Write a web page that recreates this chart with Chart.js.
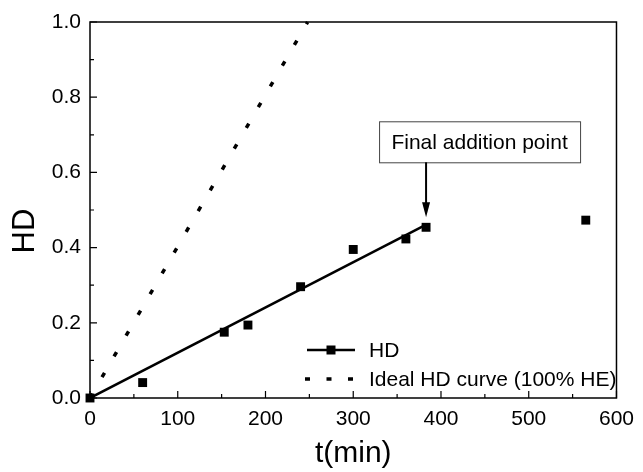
<!DOCTYPE html>
<html>
<head>
<meta charset="utf-8">
<script src="https://cdn.jsdelivr.net/npm/chart.js@4"></script>
<style>
  html, body { margin: 0; padding: 0; background: #fff; }
  #wrap { width: 643px; height: 472px; }
</style>
</head>
<body>
<div id="wrap"><canvas id="hdChart" width="643" height="472"></canvas></div>
<script>
// measured HD vs time
const timeMin = [0, 60, 153, 180, 240, 300, 360, 383, 565];
const hdValues = [0, 0.041, 0.175, 0.194, 0.296, 0.395, 0.423, 0.454, 0.473];
// linear fit up to the final addition point
const fitTime = [0, 382];
const fitHD = [0, 0.46];
// ideal curve (100% HE)
const idealTime = [0, 248];
const idealHD = [0, 1.0];
const xTicks = [0, 100, 200, 300, 400, 500, 600];
const yTicks = [0, 0.2, 0.4, 0.6, 0.8, 1.0];
const finalIndex = 7;

const FONT = '"Liberation Sans", Arial, sans-serif';

const toPoints = (xs, ys) => xs.map((x, i) => ({ x, y: ys[i] }));

// frame + inward ticks, y title, legend and the annotation box
const decorations = {
  id: 'decorations',
  afterDatasetsDraw(chart) {
    const { ctx, chartArea: a, scales } = chart;
    const xs = scales.x, ys = scales.y;
    ctx.save();
    ctx.strokeStyle = '#000';
    ctx.lineWidth = 1.5;
    ctx.strokeRect(a.left, a.top, a.right - a.left, a.bottom - a.top);

    ctx.lineWidth = 1.2;
    ctx.beginPath();
    for (let v = 0; v <= 600; v += 50) {
      const px = xs.getPixelForValue(v);
      const len = v % 100 === 0 ? 7 : 4;
      ctx.moveTo(px, a.bottom);
      ctx.lineTo(px, a.bottom - len);
    }
    for (let i = 0; i <= 10; i++) {
      const py = ys.getPixelForValue(i / 10);
      const len = i % 2 === 0 ? 7 : 4;
      ctx.moveTo(a.left, py);
      ctx.lineTo(a.left + len, py);
    }
    ctx.stroke();

    // y axis title, sits a bit below the middle like the original
    ctx.save();
    ctx.translate(24, 231);
    ctx.rotate(-Math.PI / 2);
    ctx.fillStyle = '#000';
    ctx.font = '31px ' + FONT;
    ctx.textAlign = 'center';
    ctx.textBaseline = 'middle';
    ctx.fillText('HD', 0, 1);
    ctx.restore();

    // legend
    const lx = a.left + 217;
    const ly1 = a.top + 328;
    const ly2 = a.top + 357;
    ctx.lineWidth = 2.5;
    ctx.beginPath();
    ctx.moveTo(lx, ly1);
    ctx.lineTo(lx + 48, ly1);
    ctx.stroke();
    ctx.fillStyle = '#000';
    ctx.fillRect(lx + 24 - 4.5, ly1 - 4.5, 9, 9);
    ctx.lineWidth = 3.5;
    ctx.setLineDash([5, 16.5]);
    ctx.beginPath();
    ctx.moveTo(lx - 2, ly2);
    ctx.lineTo(lx + 48, ly2);
    ctx.stroke();
    ctx.setLineDash([]);
    ctx.font = '21px ' + FONT;
    ctx.textBaseline = 'middle';
    ctx.textAlign = 'left';
    ctx.fillText('HD', lx + 62, ly1 + 1);
    ctx.fillText('Ideal HD curve (100% HE)', lx + 62, ly2 + 1);

    // annotation
    const tipX = xs.getPixelForValue(timeMin[finalIndex]);
    const tipY = ys.getPixelForValue(hdValues[finalIndex]) - 10;
    const boxL = tipX - 47, boxT = tipY - 96, boxW = 201, boxH = 41;
    ctx.fillStyle = '#fff';
    ctx.fillRect(boxL, boxT, boxW, boxH);
    ctx.strokeStyle = '#444';
    ctx.lineWidth = 1;
    ctx.strokeRect(boxL + 0.5, boxT + 0.5, boxW, boxH);
    ctx.fillStyle = '#000';
    ctx.textAlign = 'center';
    ctx.fillText('Final addition point', boxL + boxW / 2, boxT + boxH / 2 + 1);
    ctx.strokeStyle = '#000';
    ctx.lineWidth = 2;
    ctx.beginPath();
    ctx.moveTo(tipX, boxT + boxH);
    ctx.lineTo(tipX, tipY - 12);
    ctx.stroke();
    ctx.beginPath();
    ctx.moveTo(tipX - 4, tipY - 15);
    ctx.lineTo(tipX + 4, tipY - 15);
    ctx.lineTo(tipX, tipY);
    ctx.closePath();
    ctx.fill();
    ctx.restore();
  }
};

new Chart(document.getElementById('hdChart'), {
  type: 'scatter',
  data: {
    datasets: [
      {
        label: 'Ideal HD curve (100% HE)',
        data: toPoints(idealTime, idealHD),
        showLine: true,
        borderColor: '#000',
        borderWidth: 3.5,
        borderDash: [5, 19],
        pointRadius: 0,
        clip: false,
        order: 3
      },
      {
        label: 'HD fit',
        data: toPoints(fitTime, fitHD),
        showLine: true,
        borderColor: '#000',
        borderWidth: 2.5,
        pointRadius: 0,
        order: 2
      },
      {
        label: 'HD',
        data: toPoints(timeMin, hdValues),
        showLine: false,
        pointStyle: 'rect',
        pointRadius: 6.3,
        pointBorderWidth: 0,
        backgroundColor: '#000',
        borderColor: '#000',
        clip: false,
        order: 1
      }
    ]
  },
  options: {
    responsive: false,
    animation: false,
    layout: { padding: { top: 22, right: 22, left: 0, bottom: 0 } },
    plugins: {
      legend: { display: false },
      tooltip: { enabled: false }
    },
    scales: {
      x: {
        type: 'linear',
        min: 0,
        max: 600,
        afterBuildTicks: (s) => { s.ticks = xTicks.map((v) => ({ value: v })); },
        afterFit: (s) => { s.height = 74; },
        grid: { display: false, drawTicks: false },
        border: { display: false },
        ticks: {
          color: '#000',
          padding: 9,
          font: { family: FONT, size: 21 },
          callback: (v) => String(v)
        },
        title: {
          display: true,
          text: 't(min)',
          color: '#000',
          font: { family: FONT, size: 30 },
          padding: { top: 0, bottom: 0 }
        }
      },
      y: {
        type: 'linear',
        min: 0,
        max: 1,
        afterBuildTicks: (s) => { s.ticks = yTicks.map((v) => ({ value: v })); },
        afterFit: (s) => { s.width = 90; },
        grid: { display: false, drawTicks: false },
        border: { display: false },
        ticks: {
          color: '#000',
          padding: 9,
          font: { family: FONT, size: 21 },
          callback: (v) => v.toFixed(1)
        },
        title: { display: false }
      }
    }
  },
  plugins: [decorations]
});
</script>
</body>
</html>
